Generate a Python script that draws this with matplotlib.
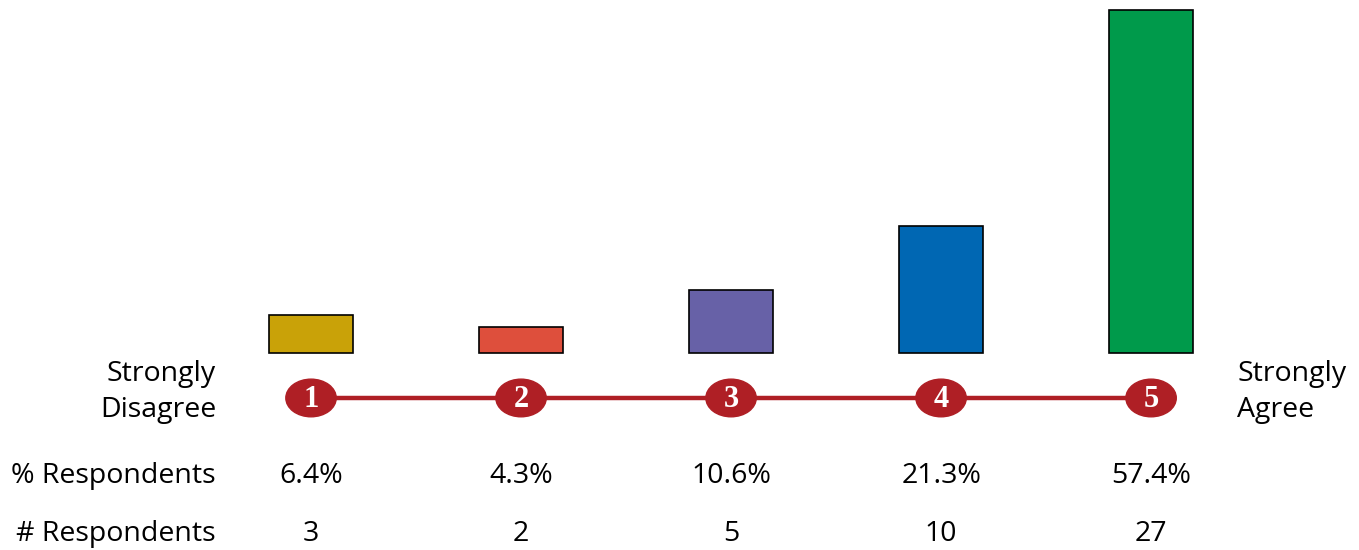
import numpy as np
import matplotlib.pyplot as plt
from matplotlib.patches import Ellipse

# data
scale_points = [1, 2, 3, 4, 5]
pct_respondents = [6.4, 4.3, 10.6, 21.3, 57.4]
num_respondents = [3, 2, 5, 10, 27]
bar_colors = ['#C9A208', '#DE4F3C', '#6761A7', '#0067B3', '#009A4B']
scale_red = '#AF1F25'

plt.rcParams['font.family'] = ['Open Sans', 'DejaVu Sans']

fig = plt.figure(figsize=(13.59, 5.5), dpi=100)
ax = fig.add_axes([0, 0, 1, 1])
ax.set_xlim(-1.481, 4.990)
ax.set_ylim(-32.97, 59.07)
ax.axis('off')

x = np.arange(len(scale_points))

# bars
ax.bar(x, pct_respondents, width=0.4, color=bar_colors,
       edgecolor='black', linewidth=1.2)

# scale line with numbered ellipses
line_y = -7.53
ax.plot([x[0], x[-1]], [line_y, line_y], color=scale_red, lw=3.2, zorder=2)
for xi, p in zip(x, scale_points):
    ax.add_patch(Ellipse((xi, line_y), 0.24, 6.3, color=scale_red, zorder=3))
    ax.text(xi, line_y - 0.2, str(p), ha='center', va='center', color='white',
            fontsize=22, fontweight='bold', family='Liberation Serif', zorder=4)

# row labels
tr = ax.get_xaxis_transform()
fs = 20.5
left_x = (216 - 311) / 210
right_x = (1237 - 311) / 210
ax.text(left_x, 1 - 374 / 550, 'Strongly', ha='right', va='center', fontsize=fs, transform=tr)
ax.text(left_x, 1 - 410 / 550, 'Disagree', ha='right', va='center', fontsize=fs, transform=tr)
ax.text(right_x, 1 - 374 / 550, 'Strongly', ha='left', va='center', fontsize=fs, transform=tr)
ax.text(right_x, 1 - 410 / 550, 'Agree', ha='left', va='center', fontsize=fs, transform=tr)

ax.text(left_x, 1 - 476 / 550, '% Respondents', ha='right', va='center', fontsize=fs, transform=tr)
ax.text(left_x, 1 - 534 / 550, '# Respondents', ha='right', va='center', fontsize=fs, transform=tr)

for xi, p, n in zip(x, pct_respondents, num_respondents):
    ax.text(xi, 1 - 476 / 550, f'{p}%', ha='center', va='center', fontsize=fs, transform=tr)
    ax.text(xi, 1 - 534 / 550, str(n), ha='center', va='center', fontsize=fs, transform=tr)

plt.savefig('out.png', dpi=100)
